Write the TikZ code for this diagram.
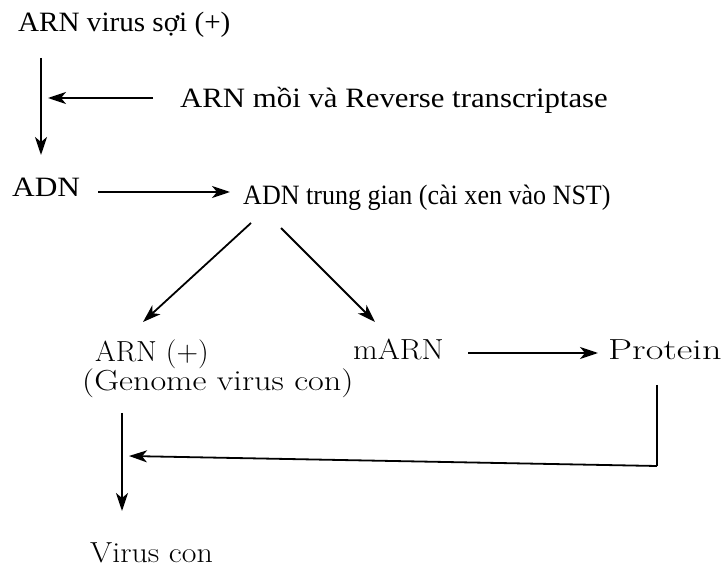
\documentclass[tikz,border=0pt]{standalone}
\usepackage{fontspec}
\setmainfont{Liberation Serif}
\newfontfamily\lmfont{Latin Modern Roman}
\usetikzlibrary{arrows.meta}
\begin{document}
\begin{tikzpicture}[x=1pt,y=-1pt,
  tlabel/.style={inner sep=0pt, anchor=base west,
    font=\addfontfeature{FakeStretch=#1}\fontsize{28}{32}\selectfont},
  clabel/.style={inner sep=0pt, anchor=base west,
    font=\lmfont\addfontfeature{FakeStretch=#1}\fontsize{29}{34}\selectfont},
  arr/.style={line width=1.8pt, -{Stealth[length=18pt,width=12pt,inset=5pt]}},
  link/.style={line width=1.8pt}]
\useasboundingbox (0,0) rectangle (726,569);

% texts
\node[tlabel=1.04] (rna)    at (18,32)   {ARN virus sợi (+)};
\node[tlabel=1.10] (primer) at (180,108) {ARN mồi và Reverse transcriptase};
\node[tlabel=1.12] (dna)    at (12,197)  {ADN};
\node[tlabel=0.93] (prov)   at (243,205) {ADN trung gian (cài xen vào NST)};
\node[clabel=1.03] (rnap)   at (95,362)  {ARN (+)};
\node[clabel=1.18] (genome) at (82,391)  {(Genome virus con)};
\node[clabel=1.10] (mrna)   at (353,360) {mARN};
\node[clabel=1.32] (prot)   at (608,360) {Protein};
\node[clabel=1.10] (virus)  at (90,562)  {Virus con};

% connector ends
\coordinate (rtTop)   at (41,58);
\coordinate (rtBot)   at (41,155);
\coordinate (prFrom)  at (153,98);
\coordinate (prTo)    at (48,98);
\coordinate (dnFrom)  at (98,192);
\coordinate (dnTo)    at (230,192);
\coordinate (lFrom)   at (251,223);
\coordinate (lTo)     at (143,322);
\coordinate (rFrom)   at (281,228);
\coordinate (rTo)     at (375,322);
\coordinate (mFrom)   at (468,353);
\coordinate (mTo)     at (598,353);
\coordinate (pTop)    at (657,385);
\coordinate (pCorner) at (657,466);
\coordinate (pTo)     at (129,456);
\coordinate (vTop)    at (122,413);
\coordinate (vBot)    at (122,511);

% connectors
\draw[arr] (rtTop) -- (rtBot);
\draw[arr] (prFrom) -- (prTo);
\draw[arr] (dnFrom) -- (dnTo);
\draw[arr] (lFrom) -- (lTo);
\draw[arr] (rFrom) -- (rTo);
\draw[arr] (mFrom) -- (mTo);
\draw[link] (pTop) -- (pCorner);
\draw[arr] (pCorner) -- (pTo);
\draw[arr] (vTop) -- (vBot);
\end{tikzpicture}
\end{document}
